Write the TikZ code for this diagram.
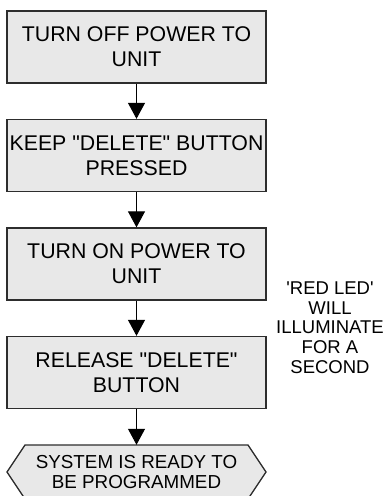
\documentclass[tikz,border=0pt]{standalone}
\usepackage{fontspec}
\setmainfont[Ligatures=TeXOff]{Liberation Sans}
\usetikzlibrary{arrows.meta}
\definecolor{boxfill}{RGB}{232,232,232}
\definecolor{boxline}{RGB}{45,45,45}
\tikzset{
  stepbox/.style={draw=boxline, line width=1.3bp, fill=boxfill, minimum width=259bp,
    minimum height=72bp, inner sep=0pt, align=center,
    font=\fontsize{21.3bp}{25bp}\selectfont},
  flowarrow/.style={line width=1bp, -{Triangle[width=17bp,length=16bp]}},
  sidenote/.style={align=center, inner sep=0pt, font=\fontsize{18.5bp}{19.7bp}\selectfont},
  hextext/.style={align=center, inner sep=0pt, minimum width=259bp, minimum height=54bp,
    font=\fontsize{18.8bp}{20bp}\selectfont}
}
\begin{document}
\begin{tikzpicture}[x=1bp, y=-1bp]
\useasboundingbox (0,0) rectangle (387,496);
\node[stepbox] (b1) at (136.5,47) {TURN OFF POWER TO\\UNIT};
\node[stepbox] (b2) at (136.5,155.5) {KEEP "DELETE" BUTTON\\PRESSED};
\node[stepbox] (b3) at (136.5,264) {TURN ON POWER TO\\UNIT};
\node[stepbox] (b4) at (136.5,372.5) {RELEASE "DELETE"\\BUTTON};
\coordinate (h1) at (25,445);
\coordinate (h2) at (248,445);
\coordinate (h3) at (266,472);
\coordinate (h4) at (248,499);
\coordinate (h5) at (25,499);
\coordinate (h6) at (7,472);
\draw[draw=boxline, line width=1.3bp, fill=boxfill] (h1) -- (h2) -- (h3) -- (h4) -- (h5) -- (h6) -- cycle;
\node[hextext] (hx) at (136.5,472) {SYSTEM IS READY TO\\BE PROGRAMMED};
\draw[flowarrow] (b1.south) -- (b2.north);
\draw[flowarrow] (b2.south) -- (b3.north);
\draw[flowarrow] (b3.south) -- (b4.north);
\draw[flowarrow] (b4.south) -- (hx.north);
\node[sidenote] (note) at (330,327.5) {'RED LED'\\WILL\\ILLUMINATE\\FOR A\\SECOND};
\end{tikzpicture}
\end{document}
